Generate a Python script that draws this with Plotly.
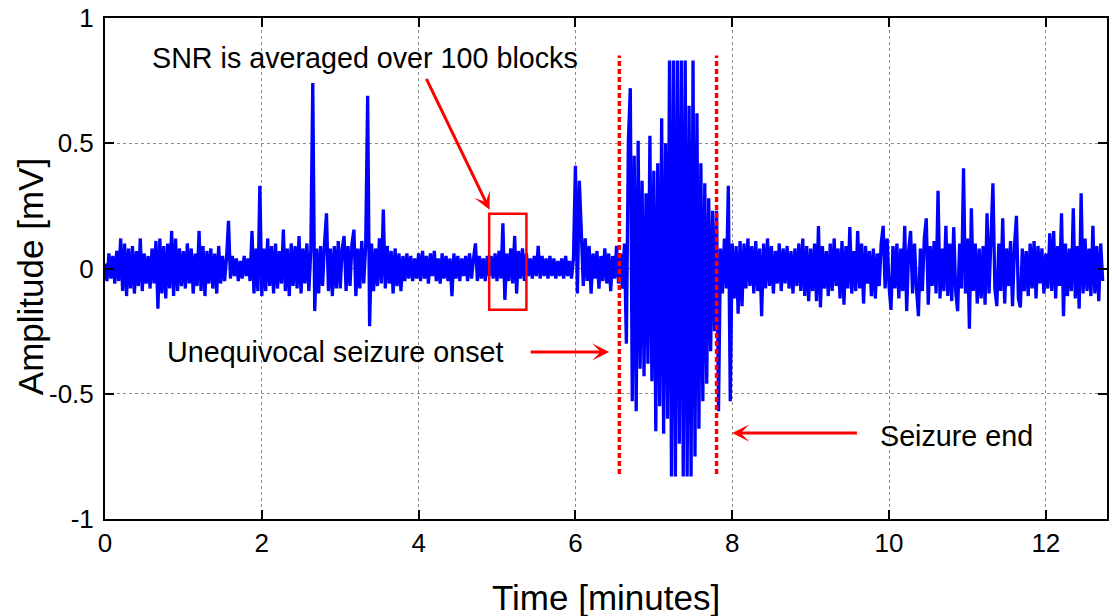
import numpy as np
import plotly.graph_objects as go

# EEG trace, amplitude in mV, one list per minute of recording
SAMPLE_STEP_MIN = 0.025

seg_00 = [0.02, -0.05, 0.06, -0.04, 0.05, -0.06, 0.07, -0.05, 0.12, -0.09,
          0.10, -0.11, 0.08, -0.08, 0.09, -0.10, 0.07, -0.07, 0.12, -0.09,
          0.06, -0.06, 0.05, -0.08, 0.08, -0.06, 0.11, -0.16, 0.12, -0.10,
          0.09, -0.12, 0.10, -0.08, 0.15, -0.11, 0.12, -0.09, 0.08, -0.07]
seg_01 = [0.07, -0.08, 0.10, -0.06, 0.08, -0.10, 0.06, -0.07, 0.15, -0.09,
          0.09, -0.11, 0.07, -0.06, 0.08, -0.08, 0.06, -0.10, 0.09, -0.06,
          0.05, -0.05, 0.04, 0.19, -0.04, 0.05, -0.03, 0.04, -0.05, 0.03,
          -0.04, 0.05, -0.03, 0.04, -0.05, 0.15, -0.10, 0.08, -0.09, 0.33]
seg_02 = [-0.11, 0.08, -0.09, 0.12, -0.07, 0.09, -0.10, 0.10, -0.08, 0.07,
          -0.06, 0.155, -0.09, 0.08, -0.11, 0.10, -0.07, 0.09, -0.08, 0.13,
          -0.10, 0.08, -0.06, 0.10, -0.09, 0.07, 0.74, -0.17, 0.08, -0.10,
          0.09, -0.07, 0.10, 0.22, -0.09, 0.08, -0.11, 0.09, -0.08, 0.11]
seg_03 = [-0.08, 0.08, 0.13, -0.09, 0.09, -0.07, 0.10, 0.155, -0.11, 0.08,
          -0.08, 0.11, -0.06, 0.09, 0.69, -0.23, 0.10, -0.09, 0.08, -0.07,
          0.12, -0.06, 0.235, -0.08, 0.09, -0.06, 0.07, -0.10, 0.08, -0.07,
          0.06, -0.09, 0.05, -0.05, 0.06, -0.04, 0.05, -0.05, 0.04, -0.04]
seg_04 = [0.06, -0.05, 0.07, -0.04, 0.05, -0.06, 0.06, -0.03, 0.07, -0.05,
          0.04, -0.06, 0.06, -0.04, 0.05, -0.05, 0.04, -0.11, 0.06, -0.04,
          0.05, -0.05, 0.04, -0.03, 0.05, -0.05, 0.06, -0.04, 0.04, 0.10,
          -0.05, 0.05, -0.04, 0.04, -0.05, 0.05, -0.03, 0.05, -0.04, 0.06]
seg_05 = [-0.05, 0.07, -0.04, 0.18, -0.125, 0.06, -0.05, 0.08, -0.06, 0.13,
          -0.10, 0.07, -0.04, 0.08, -0.05, 0.06, -0.03, 0.04, -0.04, 0.05,
          -0.03, 0.09, -0.04, 0.05, -0.03, 0.04, -0.04, 0.05, -0.03, 0.04,
          -0.04, 0.03, -0.03, 0.04, -0.04, 0.05, -0.03, 0.03, -0.04, 0.04]
seg_06 = [0.41, -0.10, 0.35, 0.15, -0.07, 0.12, -0.05, 0.09, -0.10, 0.06,
          -0.04, 0.07, -0.08, 0.05, -0.05, 0.08, -0.06, 0.06, -0.09, 0.05,
          -0.04, 0.09, -0.06, 0.06, -0.08, 0.10, -0.30, 0.51, 0.72, -0.53,
          0.45, -0.57, 0.51, -0.40, 0.35, -0.43, 0.30, -0.38, 0.53, -0.45]
seg_07 = [0.39, -0.65, 0.42, -0.55, 0.60, -0.66, 0.50, -0.60, 0.83, -0.83,
          0.83, -0.83, 0.83, -0.70, 0.83, -0.83, 0.83, -0.83, 0.65, -0.83,
          0.83, -0.75, 0.62, -0.64, 0.42, -0.53, 0.34, -0.46, 0.28, -0.33,
          0.23, -0.25, 0.23, -0.57, 0.08, -0.10, 0.12, -0.08, 0.33, -0.53]
seg_08 = [0.10, -0.12, 0.09, -0.18, 0.11, -0.15, 0.10, -0.08, 0.12, -0.07,
          0.09, -0.10, 0.11, -0.09, 0.08, -0.19, 0.10, -0.08, 0.12, -0.07,
          0.09, -0.10, 0.07, -0.06, 0.10, -0.09, 0.08, -0.06, 0.09, -0.08,
          0.07, -0.10, 0.08, -0.07, 0.10, -0.09, 0.12, -0.11, 0.09, -0.13]
seg_09 = [0.08, -0.09, 0.10, -0.13, 0.17, -0.155, 0.09, -0.08, 0.07, -0.11,
          0.10, -0.09, 0.12, -0.07, 0.08, -0.12, 0.11, -0.145, 0.09, -0.08,
          0.165, -0.10, 0.07, -0.09, 0.15, -0.08, 0.10, -0.14, 0.09, -0.06,
          0.07, -0.11, 0.08, -0.12, 0.06, -0.07, 0.10, 0.17, -0.08, 0.12]
seg_10 = [-0.07, -0.165, 0.09, -0.08, 0.10, -0.12, 0.08, -0.09, 0.17, -0.17,
          0.07, 0.15, -0.10, 0.10, -0.08, -0.19, 0.08, -0.09, 0.12, 0.20,
          -0.145, 0.09, -0.07, 0.11, -0.10, 0.31, -0.12, 0.08, -0.09, 0.17,
          -0.11, 0.10, -0.13, 0.165, -0.09, -0.17, 0.10, -0.08, 0.40, -0.10]
seg_11 = [0.12, -0.24, 0.24, -0.09, 0.10, -0.14, 0.08, -0.12, 0.09, -0.145,
          0.22, -0.10, 0.12, 0.34, -0.08, -0.15, 0.10, -0.09, 0.20, -0.14,
          0.08, -0.07, 0.11, -0.15, 0.09, 0.21, -0.12, -0.155, 0.08, -0.09,
          0.07, -0.11, 0.10, -0.08, 0.11, -0.12, 0.09, -0.06, 0.08, -0.10]
seg_12 = [0.06, -0.08, 0.14, -0.09, 0.15, -0.12, 0.09, -0.07, 0.22, -0.19,
          0.10, -0.11, 0.08, -0.09, 0.24, -0.12, 0.09, -0.16, 0.30, -0.10,
          0.12, -0.09, 0.08, -0.11, 0.17, -0.10, 0.09, -0.13, 0.10, -0.05]

# Event markers (minutes)
seizure_onset_min = 6.56
seizure_end_min = 7.80
snr_block_start_min = 4.90
snr_block_end_min = 5.375

x_tick_values = [0, 2, 4, 6, 8, 10, 12]
y_tick_values = [-1, -0.5, 0, 0.5, 1]
y_tick_labels = ["-1", "-0.5", "0", "0.5", "1"]

amplitude = np.concatenate([seg_00, seg_01, seg_02, seg_03, seg_04, seg_05, seg_06,
                            seg_07, seg_08, seg_09, seg_10, seg_11, seg_12])
time_min = np.arange(len(amplitude)) * SAMPLE_STEP_MIN

FONT = "Liberation Sans, Arial, sans-serif"
RED = "#ff0000"

fig = go.Figure()
fig.add_trace(go.Scatter(x=time_min, y=amplitude, mode="lines",
                         line=dict(color="#0000ff", width=3.3, simplify=False),
                         hoverinfo="skip", showlegend=False))

# Seizure onset / end markers
for t in (seizure_onset_min, seizure_end_min):
    fig.add_shape(type="line", x0=t, x1=t, y0=-0.82, y1=0.85, xref="x", yref="y",
                  line=dict(color=RED, width=3.5, dash="5px,3px"))

# Block used for SNR averaging
fig.add_shape(type="rect", x0=snr_block_start_min, x1=snr_block_end_min,
              y0=-0.165, y1=0.219, xref="x", yref="y",
              line=dict(color=RED, width=2.5))

def arrow(x, y, ax, ay):
    fig.add_annotation(x=x, y=y, ax=ax, ay=ay, xref="x", yref="y",
                       axref="x", ayref="y", text="", showarrow=True,
                       arrowhead=3, arrowsize=0.95, arrowwidth=3,
                       arrowcolor=RED, standoff=0, startstandoff=0)

arrow(4.905, 0.235, 4.09, 0.763)
arrow(6.43, -0.333, 5.41, -0.333)
arrow(8.0, -0.657, 9.61, -0.657)

def label(text, x, y):
    fig.add_annotation(x=x, y=y, xref="x", yref="y", text=text, showarrow=False,
                       xanchor="left", yanchor="middle",
                       font=dict(family=FONT, size=28.7, color="black"))

label("SNR is averaged over 100 blocks", 0.57, 0.84)
label("Unequivocal seizure onset", 0.76, -0.333)
label("Seizure end", 9.86, -0.67)

# Axis titles
fig.add_annotation(x=0.5, y=-0.1557, xref="paper", yref="paper",
                   text="Time [minutes]", showarrow=False,
                   xanchor="center", yanchor="middle",
                   font=dict(family=FONT, size=35, color="black"))
fig.add_annotation(x=-0.0747, y=0.483, xref="paper", yref="paper",
                   text="Amplitude [mV]", showarrow=False, textangle=-90,
                   xanchor="center", yanchor="middle",
                   font=dict(family=FONT, size=35, color="black"))

axis_common = dict(showline=True, linecolor="black", linewidth=2, mirror="ticks",
                   ticks="inside", ticklen=9, tickwidth=1.5, tickcolor="black",
                   showgrid=True, gridcolor="#8c8c8c", gridwidth=1, griddash="dot",
                   zeroline=False,
                   tickfont=dict(family=FONT, size=26, color="black"))

fig.update_xaxes(range=[0, 12.78], tickvals=x_tick_values,
                 ticktext=[str(v) for v in x_tick_values], **axis_common)
fig.update_yaxes(range=[-1, 1], tickvals=y_tick_values, ticktext=y_tick_labels,
                 ticklabelstandoff=4, **axis_common)

fig.update_layout(width=1112, height=616,
                  margin=dict(l=105, r=3, t=18, b=97),
                  plot_bgcolor="white", paper_bgcolor="white",
                  font=dict(family=FONT))

fig.write_html("out.html")
